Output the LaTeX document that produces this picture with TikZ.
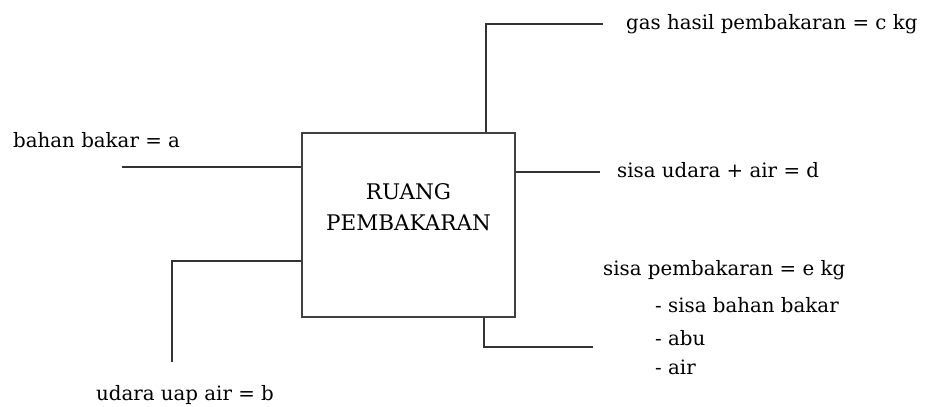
\documentclass[tikz,border=0pt]{standalone}
\usepackage{fontspec}
\setmainfont{DejaVu Serif}
\begin{document}
\begin{tikzpicture}[x=1pt,y=-1pt,
  lbl/.style={inner sep=0pt,font=\fontsize{19.8}{24}\selectfont,text=black},
  boxlbl/.style={inner sep=0pt,font=\fontsize{21.5}{24}\selectfont,text=black},
  wire/.style={draw=black!80,line width=1.7pt},
  boxst/.style={draw=black!75,line width=2.3pt,minimum width=213pt,minimum height=184pt,inner sep=0pt}]
\useasboundingbox (0,0) rectangle (932,407);
% box
\node[boxst] (ruang) at (408.5,225) {};
\node[boxlbl] (t1) at (408.5,192) {RUANG};
\node[boxlbl] (t2) at (408.5,223) {PEMBAKARAN};
% bahan bakar
\node[lbl,anchor=west] (a) at (13,140) {bahan bakar = a};
\coordinate (aend) at (122,167);
\draw[wire] (aend) -- (aend -| ruang.west);
% udara
\node[lbl] (b) at (185,395) {udara uap air = b};
\coordinate (bend) at (172,362);
\coordinate (bturn) at (172,261);
\draw[wire] (bend) -- (bturn) -- (bturn -| ruang.west);
% gas hasil
\node[lbl,anchor=west] (c) at (626,24) {gas hasil pembakaran = c kg};
\coordinate (cturn) at (486,24);
\coordinate (cend) at (603,24);
\draw[wire] (cturn |- ruang.north) -- (cturn) -- (cend);
% sisa udara
\node[lbl,anchor=west] (d) at (617,170) {sisa udara + air = d};
\coordinate (dend) at (600,172);
\draw[wire] (dend -| ruang.east) -- (dend);
% sisa pembakaran
\node[lbl,anchor=west] (e) at (603,270) {sisa pembakaran = e kg};
\node[lbl,anchor=west] (e1) at (655,305) {- sisa bahan bakar};
\node[lbl,anchor=west] (e2) at (655,338) {- abu};
\node[lbl,anchor=west] (e3) at (655,367) {- air};
\coordinate (eturn) at (484,347);
\coordinate (eend) at (593,347);
\draw[wire] (eturn |- ruang.south) -- (eturn) -- (eend);
\end{tikzpicture}
\end{document}
